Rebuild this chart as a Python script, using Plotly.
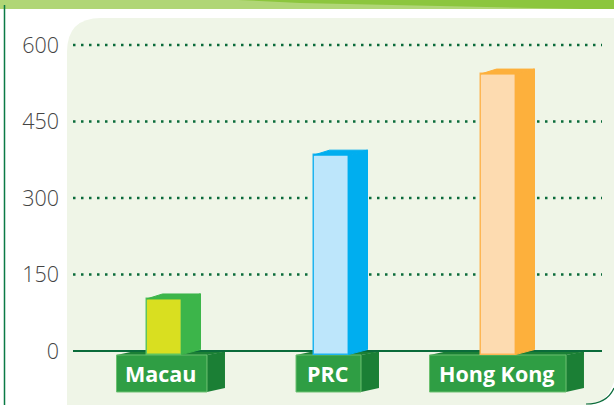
import plotly.graph_objects as go

categories = ["Macau", "PRC", "Hong Kong"]
values = [102, 384, 543]
tick_values = [0, 150, 300, 450, 600]
tick_labels = ["0", "150", "300", "450", "600"]

centers = [164, 331, 498]
front_fill = ["#d9df20", "#bde6fb", "#fddbb0"]
front_line = ["#5fc45f", "#1fb4f0", "#fdb654"]
side_fill = ["#3cb54a", "#00aeef", "#fdb03c"]
box_left = [116.5, 296, 429.5]
box_right = [207, 361, 566]

W, H, LEFT = 614, 405, 60
PX_PER_UNIT = 0.51
Y0 = 351.0
BAR_W = 35
BASE = -7
DX, DY = 19, 5


def val(py):
    return (Y0 - py) / PX_PER_UNIT


def px(x):
    return (x - LEFT) / (W - LEFT)


def py(y):
    return 1 - y / H


def poly(points):
    return "M" + " L".join(f"{px(x):.4f},{py(y):.4f}" for x, y in points) + " Z"


shapes = []
# page decoration
shapes.append(dict(type="path", xref="paper", yref="paper", layer="below", line_width=0, fillcolor="#b0d676",
                   path=poly([(0, 0), (W, 0), (W, 9), (0, 9)])))
shapes.append(dict(type="path", xref="paper", yref="paper", layer="below", line_width=0, fillcolor="#8cc63e",
                   path=poly([(238, 0), (W, 0), (W, 9), (582, 9), (300, 3)])))
shapes.append(dict(type="line", xref="paper", yref="paper", layer="below", x0=px(4.5), x1=px(4.5), y0=py(5), y1=py(H),
                   line=dict(color="#0a7a45", width=1.5)))
# rounded panel
r = 34
panel = (f"M{px(67)},{py(H)} L{px(67)},{py(18 + r)} Q{px(67)},{py(18)} {px(67 + r)},{py(18)} "
         f"L{px(W)},{py(18)} L{px(W)},{py(382)} Q{px(606)},{py(H)} {px(586)},{py(H)} Z")
shapes.append(dict(type="path", xref="paper", yref="paper", layer="below", line_width=0, fillcolor="#eff5e7", path=panel))
shapes.append(dict(type="path", xref="paper", yref="paper", layer="below", line=dict(color="#0a6b3a", width=1.2),
                   path=f"M{px(W)},{py(388)} Q{px(607)},{py(H - 1)} {px(586)},{py(H - 1)}"))
# grid from the tick values
for t in tick_values:
    if t == 0:
        continue
    shapes.append(dict(type="line", xref="x", yref="y", layer="below", x0=73, x1=602, y0=t, y1=t,
                       line=dict(color="#0a6b3a", width=2.5, dash="2.5px,5.5px")))
shapes.append(dict(type="line", xref="x", yref="y", layer="below", x0=73, x1=602, y0=0, y1=0,
                   line=dict(color="#0a6b3a", width=2)))
# label plinths
for l, rr in zip(box_left, box_right):
    shapes.append(dict(type="path", xref="paper", yref="paper", layer="below", line_width=0, fillcolor="#1b7f35",
                       path=poly([(rr, 355), (rr + 18, 351.5), (rr + 18, 388), (rr, 392)])))
    shapes.append(dict(type="path", xref="paper", yref="paper", layer="below", line_width=0, fillcolor="#1b7f35",
                       path=poly([(l, 355), (l + 14, 352), (rr + 18, 352), (rr, 355)])))
    shapes.append(dict(type="path", xref="paper", yref="paper", layer="below", fillcolor="#2f9e44",
                       line=dict(color="#6cc070", width=1),
                       path=poly([(l, 355), (rr, 355), (rr, 392), (l, 392)])))

fig = go.Figure()
fig.add_trace(go.Bar(x=centers, y=[v - BASE for v in values], base=BASE, width=BAR_W,
                     marker=dict(color=front_fill, line=dict(color=front_line, width=1.5)),
                     hoverinfo="skip", showlegend=False))

unit_dy = DY / PX_PER_UNIT
for c, v, color in zip(centers, values, side_fill):
    xl, xr = c - BAR_W / 2, c + BAR_W / 2
    # right side face
    fig.add_trace(go.Scatter(x=[xr, xr + DX, xr + DX, xr, xr],
                             y=[v, v + unit_dy, BASE + unit_dy, BASE, v],
                             mode="lines", fill="toself", fillcolor=color, line=dict(color=color, width=1),
                             hoverinfo="skip", showlegend=False))
    # top face
    fig.add_trace(go.Scatter(x=[xl, xl + DX - 3, xr + DX, xr, xl],
                             y=[v, v + unit_dy, v + unit_dy, v, v],
                             mode="lines", fill="toself", fillcolor=color, line=dict(color=color, width=1),
                             hoverinfo="skip", showlegend=False))

annotations = [dict(x=(l + rr) / 2 - 1, y=val(373), xref="x", yref="y", text=f"<b>{cat}</b>", showarrow=False,
                    font=dict(family="Open Sans", size=21.5, color="white"))
               for cat, l, rr in zip(categories, box_left, box_right)]

fig.update_layout(
    width=W, height=H, autosize=False,
    margin=dict(l=LEFT, r=0, t=0, b=0),
    paper_bgcolor="white", plot_bgcolor="rgba(0,0,0,0)",
    shapes=shapes, annotations=annotations,
    xaxis=dict(range=[LEFT, W], visible=False, fixedrange=True),
    yaxis=dict(range=[val(H), val(0)], tickmode="array", tickvals=tick_values, ticktext=tick_labels,
               showgrid=False, zeroline=False, showline=False, ticks="", ticklabelstandoff=0,
               tickfont=dict(family="Open Sans", size=21.5, weight=300, color="#444444"), fixedrange=True),
    bargap=0,
)
fig.write_html("out.html", config=dict(displayModeBar=False),
               post_script="document.body.style.margin='0';document.documentElement.style.overflow='hidden';")
